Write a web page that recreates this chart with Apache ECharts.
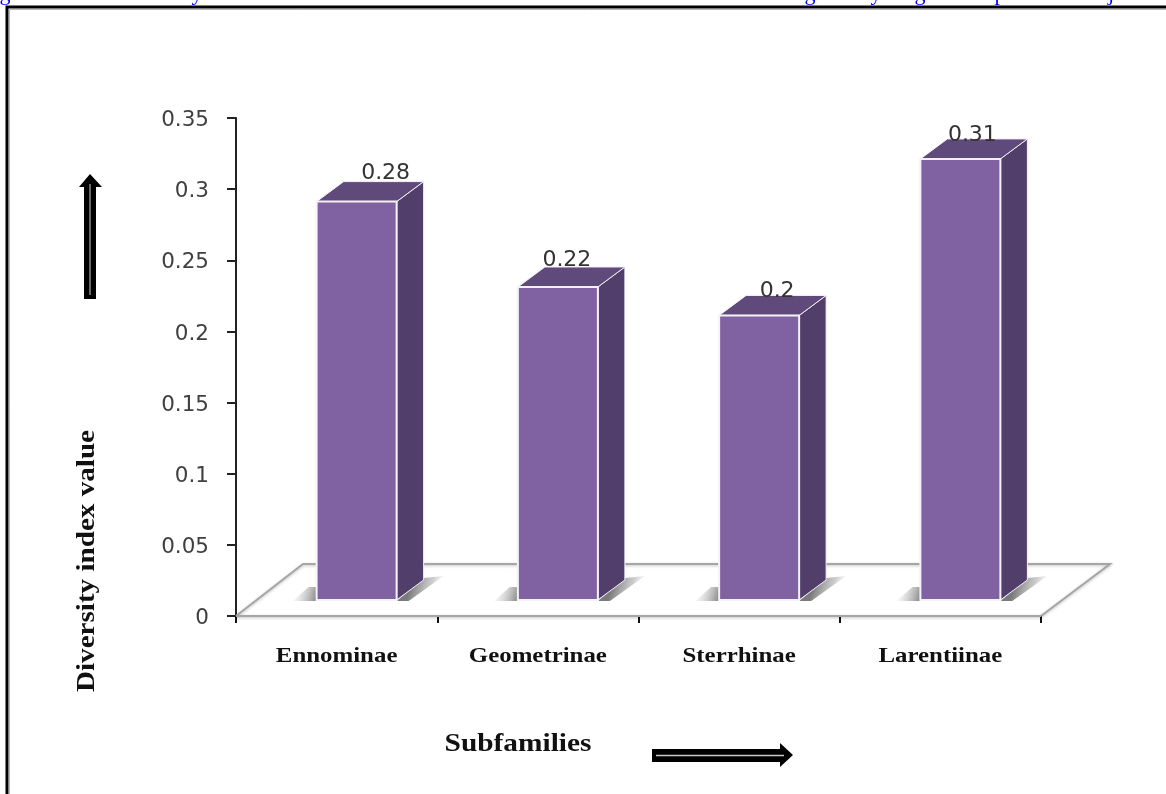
<!DOCTYPE html>
<html>
<head>
<meta charset="utf-8">
<style>html,body{margin:0;padding:0;background:#fff;overflow:hidden}#chart{width:1166px;height:794px}</style>
<script src="https://cdn.jsdelivr.net/npm/echarts@6/dist/echarts.min.js"></script>
</head>
<body>
<div id="chart"></div>
<script>
// Diversity index by geometrid subfamily
const subfamilies = ['Ennominae', 'Geometrinae', 'Sterrhinae', 'Larentiinae'];
const diversityIndex = [0.28, 0.22, 0.2, 0.31];
const yTickStep = 0.05;
const yMax = 0.35;

// Horizontal/vertical nudges of each value label relative to its bar
const labelNudgeX = [29, 9, 18, 12];
const labelNudgeY = [-28, -27, -24, -24];

// Pseudo-3D geometry, in pixels
const FLOOR_LIFT = 16, FRONT_SHIFT = 20, HALF_W = 40, DEPTH_X = 27, DEPTH_Y = 20;
const FLOOR_BACK_Y = 52, FLOOR_BACK_LEFT = 67, FLOOR_BACK_RIGHT = 69;
const FRONT = '#8062a3', TOP = '#604a7b', SIDE = '#523e6b', EDGE = '#f4f1f7';

const serif = '"Liberation Serif"';
const chart = echarts.init(document.getElementById('chart'), null, { renderer: 'canvas' });

function poly(points, fill, stroke, lw) {
  return { type: 'polygon', shape: { points }, style: { fill, stroke: stroke || null, lineWidth: lw || 0 } };
}

function softShadow(points, from, to, stops) {
  return {
    type: 'polygon',
    shape: { points },
    style: {
      fill: new echarts.graphic.LinearGradient(from[0], from[1], to[0], to[1], stops)
    }
  };
}

function renderFloor(params, api) {
  const base = api.coord([0, 0]);
  const r = params.coordSys;
  const y0 = base[1], xl = r.x, xr = r.x + r.width;
  const line = (pts) => ({
    type: 'polyline', shape: { points: pts },
    style: { fill: null, stroke: '#a6a6a6', lineWidth: 2, shadowColor: 'rgba(0,0,0,0.25)', shadowBlur: 3, shadowOffsetY: 1 }
  });
  return {
    type: 'group',
    children: [
      line([[xl, y0], [xl + FLOOR_BACK_LEFT, y0 - FLOOR_BACK_Y], [xr + FLOOR_BACK_RIGHT, y0 - FLOOR_BACK_Y], [xr, y0]]),
      line([[xl, y0], [xr, y0]])
    ]
  };
}

function renderBar(params, api) {
  const value = api.value(1);
  const bottom = api.coord([api.value(0), 0]);
  const top = api.coord([api.value(0), value]);
  const cx = bottom[0] + FRONT_SHIFT;
  const x0 = cx - HALF_W, x1 = cx + HALF_W;
  const yb = bottom[1] - FLOOR_LIFT, yt = top[1] - FLOOR_LIFT;
  const i = params.dataIndex;
  return {
    type: 'group',
    children: [
      softShadow(
        [[x0 - 24, yb + 1], [x0 - 8, yb - 13], [x0 + 2, yb - 13], [x0 + 2, yb + 1]],
        [1, 0.85], [0, 0.35],
        [{ offset: 0, color: 'rgba(115,115,115,0.95)' }, { offset: 1, color: 'rgba(190,190,190,0)' }]
      ),
      softShadow(
        [[x1, yb + 1], [x1 + DEPTH_X, yb - 22], [x1 + DEPTH_X + 20, yb - 24], [x1 + 12, yb + 1]],
        [0.28, 0.5], [0.95, 0.85],
        [{ offset: 0, color: 'rgba(115,115,115,0.95)' }, { offset: 0.6, color: 'rgba(170,170,170,0.6)' }, { offset: 1, color: 'rgba(200,200,200,0)' }]
      ),
      poly([[x1, yt], [x1 + DEPTH_X, yt - DEPTH_Y], [x1 + DEPTH_X, yb - DEPTH_Y], [x1, yb]], SIDE, EDGE, 1),
      poly([[x0, yt], [x0 + DEPTH_X, yt - DEPTH_Y], [x1 + DEPTH_X, yt - DEPTH_Y], [x1, yt]], TOP, EDGE, 1),
      poly([[x0, yt], [x1, yt], [x1, yb], [x0, yb]], FRONT, EDGE, 2),
      {
        type: 'text',
        style: {
          text: String(value),
          x: cx + labelNudgeX[i], y: yt + labelNudgeY[i],
          align: 'center', verticalAlign: 'middle',
          font: '22px "DejaVu Sans"', fill: '#333333'
        }
      },
      // Category name, set wide like the rest of the serif lettering
      {
        type: 'text',
        x: bottom[0], y: bottom[1] + 40, scaleX: 1.13,
        style: {
          text: subfamilies[i], x: 0, y: 0,
          align: 'center', verticalAlign: 'middle',
          font: 'bold 22px ' + serif, fill: '#111'
        }
      }
    ]
  };
}

// Double-stroked block arrow: black outline with a thin pale core
function blockArrow(outline, core, coreColor) {
  return [
    { type: 'polygon', shape: { points: outline }, style: { fill: '#000' } },
    { type: 'polyline', shape: { points: core }, style: { fill: null, stroke: coreColor, lineWidth: 1.5 } }
  ];
}

// Descenders of a hyperlink line that runs off the top of the page
const clippedGlyphs = [['g', 5], ['y', 197], ['g', 810], ['y', 876], ['g', 920], ['p', 1000], ['j', 1111]];

chart.setOption({
  animation: false,
  backgroundColor: '#ffffff',
  grid: { left: 236, right: 125, top: 118, bottom: 178, containLabel: false },
  xAxis: {
    type: 'category',
    data: subfamilies,
    axisLine: { show: true, lineStyle: { color: '#a6a6a6', width: 2 } },
    axisTick: { show: true, length: 7, lineStyle: { color: '#111', width: 2 } },
    axisLabel: { show: false },
    splitLine: { show: false }
  },
  yAxis: {
    type: 'value',
    min: 0,
    max: yMax,
    interval: yTickStep,
    axisLine: { show: true, onZero: false, lineStyle: { color: '#222', width: 2 } },
    axisTick: { show: true, length: 9, lineStyle: { color: '#222', width: 2 } },
    axisLabel: {
      margin: 27,
      formatter: (v) => '{t|' + v + '}',
      rich: { t: { fontFamily: 'DejaVu Sans', fontSize: 21.5, color: '#404040', padding: [5, 0, 0, 0] } }
    },
    splitLine: { show: false }
  },
  series: [
    { type: 'custom', name: 'floor', coordinateSystem: 'cartesian2d', renderItem: renderFloor, data: [[0, 0]], z: 1, silent: true, encode: { x: 0, y: 1 } },
    {
      type: 'custom', name: 'Diversity index', coordinateSystem: 'cartesian2d', renderItem: renderBar, z: 2,
      data: subfamilies.map((_, i) => [i, diversityIndex[i]]),
      encode: { x: 0, y: 1 }
    }
  ],
  graphic: [
    // page frame open on the right and bottom
    { type: 'polyline', shape: { points: [[7, 794], [7, 7], [1166, 7]] }, style: { fill: null, stroke: '#000', lineWidth: 3 }, z: 5 },
    { type: 'polyline', shape: { points: [[9.5, 794], [9.5, 9.5], [1166, 9.5]] }, style: { fill: null, stroke: '#b5b5b5', lineWidth: 1 }, z: 5 },
    ...clippedGlyphs.map(([ch, x]) => ({
      type: 'text',
      style: { text: ch, x, y: -6, align: 'center', verticalAlign: 'middle', font: '22px ' + serif, fill: '#0000ee' },
      z: 5
    })),
    {
      type: 'text', x: 87, y: 561, rotation: Math.PI / 2, scaleX: 1.12,
      style: { text: 'Diversity index value', x: 0, y: 0, align: 'center', verticalAlign: 'middle', font: 'bold 26px ' + serif, fill: '#111' },
      z: 5
    },
    {
      type: 'text', x: 518, y: 744, scaleX: 1.13,
      style: { text: 'Subfamilies', x: 0, y: 0, align: 'center', verticalAlign: 'middle', font: 'bold 26px ' + serif, fill: '#111' },
      z: 5
    },
    ...blockArrow(
      [[90, 174], [102, 187], [96, 187], [96, 299], [84, 299], [84, 187], [79, 187]],
      [[90, 184], [90, 295]], '#8a8a8a'
    ).map(e => ({ ...e, z: 5 })),
    ...blockArrow(
      [[793, 755], [780, 743], [780, 749], [652, 749], [652, 762], [780, 762], [780, 767]],
      [[656, 755.5], [784, 755.5]], '#c8c8c8'
    ).map(e => ({ ...e, z: 5 }))
  ]
});
</script>
</body>
</html>
